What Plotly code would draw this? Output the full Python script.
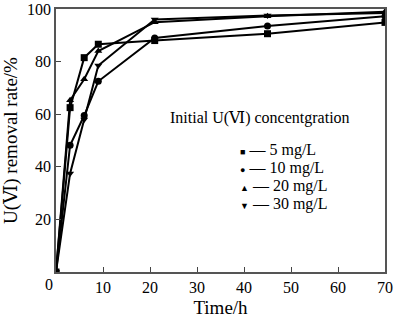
import plotly.graph_objects as go

time_h = [0, 3, 6, 9, 21, 45, 70]
series_names = ["5 mg/L", "10 mg/L", "20 mg/L", "30 mg/L"]
rate_5 = [0, 62.5, 81.5, 86.6, 88.0, 90.6, 94.9]
rate_10 = [0, 48.2, 59.5, 72.5, 89.0, 93.5, 97.2]
rate_20 = [0, 65.3, 73.3, 84.0, 95.0, 97.2, 99.0]
rate_30 = [0, 37.5, 58.0, 78.5, 96.0, 97.5, 98.5]
symbols = ["square", "circle", "triangle-up", "triangle-down"]
glyphs = ["■", "●", "▲", "▼"]
x_ticks = [10, 20, 30, 40, 50, 60, 70]
y_ticks = [20, 40, 60, 80, 100]

FONT = "Liberation Serif, DejaVu Serif, Times New Roman, serif"

fig = go.Figure()
for name, vals, sym in zip(series_names, [rate_5, rate_10, rate_20, rate_30], symbols):
    fig.add_trace(go.Scatter(
        x=time_h, y=vals, name=name, mode="lines+markers",
        line=dict(color="black", width=2),
        marker=dict(symbol=sym, size=7, color="black"),
        showlegend=False,
    ))

fig.update_layout(
    width=400, height=322,
    margin=dict(l=56, r=8, t=7, b=43),
    paper_bgcolor="white", plot_bgcolor="white",
    font=dict(family=FONT, size=16, color="black"),
)
fig.update_xaxes(
    range=[0, 70], tickvals=x_ticks, ticks="inside", ticklen=5,
    showline=True, linecolor="#555", linewidth=1.5, mirror=True,
    showgrid=False, zeroline=False, ticklabeloverflow="allow",
    title=dict(text="Time/h", standoff=6),
)
fig.update_yaxes(
    range=[0, 100], tickvals=y_ticks, ticks="inside", ticklen=5,
    showline=True, linecolor="#555", linewidth=1.5, mirror=True,
    showgrid=False, zeroline=False, automargin=False, ticklabeloverflow="allow",
    title=dict(text="U(Ⅵ) removal rate/%", standoff=4),
)
fig.add_annotation(text="0", xref="paper", yref="paper", x=0, y=0,
                   xanchor="right", yanchor="top", xshift=-1, yshift=-2,
                   showarrow=False)
fig.add_annotation(text="Initial U(Ⅵ) concentgration", xref="paper", yref="paper",
                   x=0.339, y=0.585, xanchor="left", yanchor="middle",
                   showarrow=False)
for i, (g, name) in enumerate(zip(glyphs, series_names)):
    fig.add_annotation(
        text=f"<span style='font-size:9px'>{g}</span> — {name}",
        xref="paper", yref="paper", x=0.554, y=0.462 - i * 0.068,
        xanchor="left", yanchor="middle", showarrow=False)

fig.write_html("out.html")
